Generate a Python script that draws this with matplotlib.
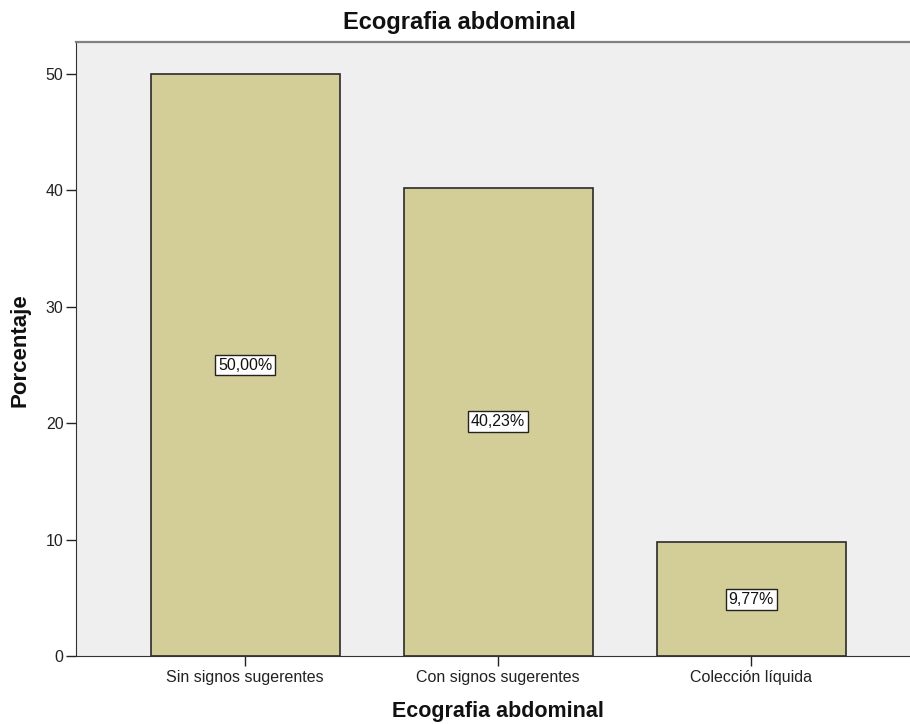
import matplotlib
matplotlib.use("Agg")
import matplotlib.pyplot as plt

categories = ["Sin signos sugerentes", "Con signos sugerentes", "Colección líquida"]
values = [50.00, 40.23, 9.77]
labels = ["50,00%", "40,23%", "9,77%"]
yticks = [0, 10, 20, 30, 40, 50]

plt.rcParams['font.family'] = ['Liberation Sans', 'DejaVu Sans']

fig = plt.figure(figsize=(9.1, 7.24), dpi=100)
ax = fig.add_axes([76/910, 68/724, 1 - 76/910, (656-42)/724])
ax.set_facecolor("#efefef")

x = list(range(len(categories)))
ax.bar(x, values, width=0.747, color="#d3ce97", edgecolor="#2b2b2b", linewidth=1.2, zorder=2)
for xi, v, lab in zip(x, values, labels):
    ax.text(xi, v/2, lab, ha="center", va="center", fontsize=11.5, color="#111111", zorder=3,
            bbox=dict(boxstyle="square,pad=0.18", facecolor="white", edgecolor="#222222", linewidth=1))

ax.set_xlim(-0.668, 2.628)
ax.set_ylim(0, 52.75)
ax.set_xticks(x)
ax.set_xticklabels(categories, fontsize=11.5, color="#222222")
ax.set_yticks(yticks)
ax.set_yticklabels([str(t) for t in yticks], fontsize=11.5, color="#222222")
ax.tick_params(axis="x", direction="out", length=7, width=1, color="#222222", pad=3)
ax.tick_params(axis="y", direction="out", length=7, width=1, color="#222222", pad=2)

ax.spines["right"].set_visible(False)
ax.spines["top"].set_color("#808080")
ax.spines["top"].set_linewidth(1.6)
ax.spines["left"].set_color("#333333")
ax.spines["bottom"].set_color("#333333")

fig.text(20/910, 1 - 350/724, "Porcentaje", rotation=90, ha="center", va="center",
         fontsize=16, fontweight="bold", color="#111111")
fig.text(498/910, 1 - 712/724, "Ecografia abdominal", ha="center", va="center",
         fontsize=15.5, fontweight="bold", color="#111111")
fig.text(459/910, 1 - 23/724, "Ecografia abdominal", ha="center", va="center",
         fontsize=17, fontweight="bold", color="#111111")

fig.savefig("out.png", dpi=100)
